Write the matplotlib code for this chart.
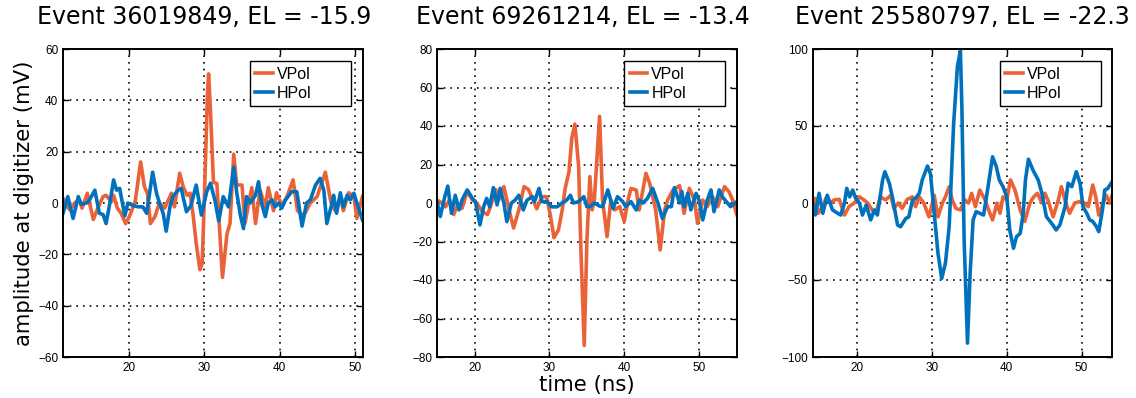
import matplotlib
matplotlib.use('Agg')
import matplotlib.pyplot as plt
import numpy as np

# event info
titles = ['Event 36019849, EL = -15.9', 'Event 69261214, EL = -13.4', 'Event 25580797, EL = -22.3']
title_x = [0.472, 0.485, 0.5]
xlims = [(11.16, 51.05), (15.0, 55.05), (14.05, 54.1)]
ylims = [(-60, 60), (-80, 80), (-100, 100)]
yticks = [np.arange(-60, 61, 20), np.arange(-80, 81, 20), np.arange(-100, 101, 50)]
xticks = [20, 30, 40, 50]

# event 1 waveforms (time ns, mV)
t1_v = [11.16, 11.7, 12.1, 12.7, 13.3, 13.7, 14.4, 15.2, 15.8, 16.5, 16.9, 17.6, 17.9, 18.4, 18.9, 19.5,
        20.0, 20.5, 20.8, 21.5, 22.0, 22.4, 22.8, 23.4, 24.0, 24.7, 25.6, 26.0, 26.7, 27.2, 27.7, 28.1,
        28.5, 28.9, 29.4, 29.7, 30.0, 30.4, 30.55, 30.8, 31.2, 31.65, 32.4, 33.0, 33.4, 33.9, 34.3, 35.0,
        35.4, 35.9, 36.3, 36.8, 37.4, 38.1, 38.5, 39.2, 39.6, 40.3, 41.0, 41.8, 42.4, 43.2, 44.1, 45.0,
        46.1, 46.8, 47.4, 48.1, 48.5, 49.2, 49.9, 50.3, 51.05]
v1 = [1.8, -1.4, -2.7, 0, 1.2, -2, 3.8, -6.4, -2, 2.5, 3, 0.5, 3, -2, -4, -8,
      -5.3, -1.5, 1, 16, 6.4, 3.8, -8, -5.3, 0, -2, 3.8, -1.5, 11.6, 6, 3, 3.8,
      -5, -15.7, -26, -23.5, 3, 42.7, 50.3, 36, 8, 7.6, -29, -12, -8, 19, 7, 7,
      -8, 0, 6, -8, 5, -1.5, 6, -3, 4, -1, 2.5, 9, -3, -5, 0, 2.5,
      12, 1, -3, 2, -3, 4, 2.5, -6, 2.5]
t1_h = [11.16, 11.8, 12.5, 13.2, 13.6, 14.3, 14.7, 15.4, 16.0, 16.5, 16.9, 17.4, 17.9, 18.3, 18.7, 19.4,
        19.8, 20.5, 21.2, 21.8, 22.3, 23.1, 23.6, 24.0, 24.5, 24.9, 25.4, 25.8, 26.5, 26.9, 27.6, 28.2,
        28.9, 29.6, 30.3, 30.8, 31.4, 31.9, 32.5, 33.2, 33.9, 34.3, 34.8, 35.2, 35.6, 36.1, 36.8, 37.2,
        37.6, 38.1, 38.5, 39.0, 39.4, 39.9, 40.3, 40.8, 41.6, 42.3, 43.0, 43.6, 44.1, 44.8, 45.4, 45.9,
        46.3, 47.0, 47.2, 47.6, 48.1, 48.5, 49.0, 49.4, 49.9, 50.3, 51.05]
h1 = [-4, 2.5, -6, 2.5, -0.5, 0, 1.2, 5, -4, -4.5, -8, 0, 9, 5, 5.7, -5,
      0, -1, -1.5, -1.5, -4, 12, 4, 0, -4, -11, -1.5, 2.5, 5, 5.7, -3.4, -1,
      7, -4.7, 4.4, 7.7, 1, -7, 2.5, -1.5, 14, 4, -5, -10, 2.5, 0, 3, 8.3,
      0, -5.3, 0, 1.2, -1.5, 0, -2, 1.2, 4.4, 4.4, -9, 0, 1.2, 7, 9.6, 5,
      -8, 0, 3, -4, 4, -1.5, 3, 1.2, 3.8, 0, -6.6]

# event 2 waveforms
t2_v = [15.0, 15.7, 16.1, 16.6, 17.2, 17.7, 18.3, 19.0, 19.7, 20.3, 21.0, 21.7, 22.1, 22.8, 23.2, 23.9,
        24.6, 25.2, 25.9, 26.6, 27.2, 27.9, 28.3, 29.0, 29.6, 30.1, 30.6, 31.2, 31.7, 32.1, 32.6, 33.0,
        33.4, 33.9, 34.2, 34.65, 35.0, 35.4, 35.7, 36.0, 36.7, 37.1, 37.7, 38.2, 38.7, 39.4, 40.0, 40.5,
        40.9, 41.6, 42.0, 42.9, 43.4, 44.2, 44.8, 45.4, 45.8, 46.5, 47.4, 48.0, 48.7, 49.4, 49.8, 50.5,
        51.1, 51.8, 52.5, 53.4, 54.0, 54.5, 55.05]
v2 = [1.5, -0.2, -2, 1.5, -6, -1, -2.8, 6, 1.5, -0.2, -4.5, -6, -2, 7, 1.5, 8.5,
      -3.6, -13, -3.6, 8.5, 7, 0.7, -3, 3.3, 3.3, -6, -18, -14, -3.6, 7.6, 16, 34,
      41, 19, -24, -74, -20, 13.7, -3.6, 1.5, 45, 1.5, -17.5, 1.5, -3.6, -1.9, -9.7, 1.5,
      7.6, 6.7, -3.6, 15.4, 10.2, -3.6, -24.4, -3.6, 1.5, 6.7, 9, -5.4, 7.6, 1.5, -10.6, 1.5,
      -1.9, 3.3, -1.9, 8.5, 5.9, 1.5, -6]
t2_h = [15.0, 15.4, 16.0, 16.4, 16.9, 17.4, 17.9, 18.3, 19.0, 19.7, 20.1, 20.7, 21.2, 21.6, 22.0, 22.5,
        23.0, 23.4, 23.9, 24.3, 24.9, 25.4, 25.9, 26.5, 27.0, 27.7, 28.0, 28.6, 29.0, 29.7, 30.3, 31.0,
        31.7, 32.3, 32.8, 33.2, 33.9, 34.6, 35.0, 35.4, 36.0, 36.7, 37.1, 37.8, 38.5, 39.1, 39.8, 40.2,
        40.9, 41.6, 42.0, 42.5, 43.1, 43.8, 44.5, 45.1, 45.8, 46.3, 46.7, 47.4, 47.7, 48.0, 48.5, 48.9,
        49.6, 50.0, 50.5, 51.1, 51.6, 52.0, 52.7, 53.1, 53.8, 54.2, 55.05]
h2 = [0, -7, 3.3, 8.8, -5.4, 4, -3.6, 1.5, 6.8, 2.4, 0.7, -11.4, -1.9, 2.4, -1.9, 8,
      -1, 7.6, 0, -9.7, 0, 1.5, 4, -3.6, 1.5, 3.3, 0.7, 7.6, 0.7, 0.7, -2, -2,
      0, 1.5, 4, 0, 0.7, 3.3, -1.9, -1.9, 0, -1.6, -1.9, 6.8, -2.8, 3.3, 0.7, -1.9,
      0.7, -3.6, 1.5, 0, 2.4, 7.6, 0, -8, -1.9, -1.9, 8, 0, 6, -1.9, 5, -3.6,
      5, 1.5, -8.8, 1.5, 6.8, -4.5, 6.8, 3.3, 0, -1.9, 0.7]

# event 3 waveforms
t3_v = [14.05, 14.4, 14.8, 15.4, 15.8, 16.5, 16.9, 17.6, 18.3, 18.9, 19.6, 20.3, 20.9, 21.4, 22.0, 22.5,
        23.1, 23.8, 24.5, 24.9, 25.5, 26.0, 26.7, 27.4, 27.8, 28.3, 28.9, 29.6, 30.3, 30.8, 31.4, 31.8,
        32.3, 32.7, 33.2, 33.8, 34.4, 34.9, 35.3, 35.8, 36.4, 37.1, 37.5, 38.1, 38.7, 39.1, 39.5, 40.0,
        40.5, 41.1, 41.8, 42.4, 43.1, 43.6, 44.1, 44.7, 45.1, 45.5, 46.2, 46.9, 47.3, 47.9, 48.4, 49.1,
        49.8, 50.4, 50.9, 51.5, 51.9, 52.3, 52.9, 53.3, 53.8, 54.1]
v3 = [-2.4, 3, -6.7, -2.4, 3, 0, 2, 2.4, -7.8, -2.4, 0, 4, 2, 0, -4.5, -6.7,
      4, 2, 5, -3.5, 0, -3.5, 2.4, 4, -2.4, 4, 0, -9, 5, -9, 0, 4,
      10.6, 2, -3.5, -4.5, 2, 0, 6.3, -2.4, 8.4, 2, -3.5, -11, 0, -6.7, 4, 2,
      15, 8.4, -4.5, -12, 0, 4, 6.3, 0, 6.3, 2, -9, 2, 10.6, 0, -6.7, 0,
      1, 0, -2.4, 11.7, 4, -7.8, 0, 5, 0, 5]
t3_h = [14.05, 14.4, 14.9, 15.4, 16.0, 16.7, 17.4, 17.8, 18.3, 18.6, 19.0, 19.4, 19.8, 20.3, 20.7, 21.2,
        21.8, 22.3, 22.7, 23.4, 23.7, 24.3, 24.7, 25.4, 25.8, 26.5, 26.9, 27.4, 27.8, 28.3, 28.7, 29.4,
        29.8, 30.3, 30.8, 31.3, 31.8, 32.3, 32.9, 33.4, 33.8, 34.0, 34.3, 34.75, 35.1, 35.5, 35.9, 36.4,
        36.9, 37.5, 38.1, 38.6, 39.0, 39.5, 40.0, 40.4, 40.9, 41.3, 41.8, 42.2, 42.5, 42.9, 43.5, 44.2,
        44.7, 45.3, 46.0, 46.6, 47.1, 47.8, 48.2, 48.7, 49.3, 49.8, 50.2, 50.7, 51.1, 51.5, 52.0, 52.3,
        52.8, 53.1, 53.5, 54.1]
h3 = [0, -7.8, 6.3, -6.7, 5, -4.5, -6.7, -7.8, 0, 9.5, 4, 8.4, 3, 0, -7.8, -1.3,
      -11, -4.5, -7.8, 15, 20.3, 12.8, 4, -14.3, -15.4, -10, -9, 2, 3, 6.3, 15, 24,
      19, -6.7, -32.5, -49, -39, -15.4, 51.7, 88.5, 99, 62, -24, -91, -45.7, -11, -5.6, -6.7,
      -7.8, 10.6, 30, 23.6, 15, 10.6, 4, -17.5, -29.4, -21.9, -19.7, -6.7, 15, 28.4, 21.4, 15,
      6.3, -8.9, -13.2, -17.5, -14.3, -2.4, 12.8, 10.6, 20.3, 12.8, -2.4, -6.7, -11, -12, -15.4, -18.6,
      -4.5, 8.4, 9.5, 13.9]

vpol_t = [t1_v, t2_v, t3_v]
vpol = [v1, v2, v3]
hpol_t = [t1_h, t2_h, t3_h]
hpol = [h1, h2, h3]

orange = '#EA6237'
blue = '#0072BD'

fig = plt.figure(figsize=(11.36, 3.98), dpi=100)
lefts = [63 / 1136, 437.3 / 1136, 812.7 / 1136]
w = 299.5 / 1136
bottom = 1 - 357 / 398
h = 308 / 398

for i in range(3):
    ax = fig.add_axes([lefts[i], bottom, w, h])
    ax.plot(vpol_t[i], vpol[i], color=orange, lw=2.6, label='VPol', solid_joinstyle='round')
    ax.plot(hpol_t[i], hpol[i], color=blue, lw=2.6, label='HPol', solid_joinstyle='round')
    ax.set_xlim(*xlims[i])
    ax.set_ylim(*ylims[i])
    ax.set_xticks(xticks)
    ax.set_yticks(yticks[i])
    ax.set_yticklabels([str(v).replace('-', '\u2212') for v in yticks[i]])
    ax.grid(True, color='black', linestyle=(0, (1, 3)), linewidth=1.2)
    ax.tick_params(direction='in', length=4, width=1, top=True, right=True, labelsize=8.5)
    for lab in ax.get_xticklabels() + ax.get_yticklabels():
        lab.set_family('Liberation Sans')
    for s in ax.spines.values():
        s.set_linewidth(1.4)
    ax.set_title(titles[i], fontsize=17, pad=18, x=title_x[i])
    leg = ax.legend(loc='upper left', bbox_to_anchor=(0.624, 0.812, 0.338, 0.149), mode='expand',
                    fancybox=False, framealpha=1, edgecolor='black',
                    prop={'family': 'Liberation Sans', 'size': 11.5}, handlelength=1.1,
                    handletextpad=0.25, borderaxespad=0.0, borderpad=0.35, labelspacing=0.25)
    leg.get_frame().set_linewidth(1.0)
    if i == 0:
        ax.set_ylabel('amplitude at digitizer (mV)', fontsize=15.3, labelpad=3)
    if i == 1:
        ax.set_xlabel('time (ns)', fontsize=15.3, labelpad=1)

fig.savefig('out.png', dpi=100)
